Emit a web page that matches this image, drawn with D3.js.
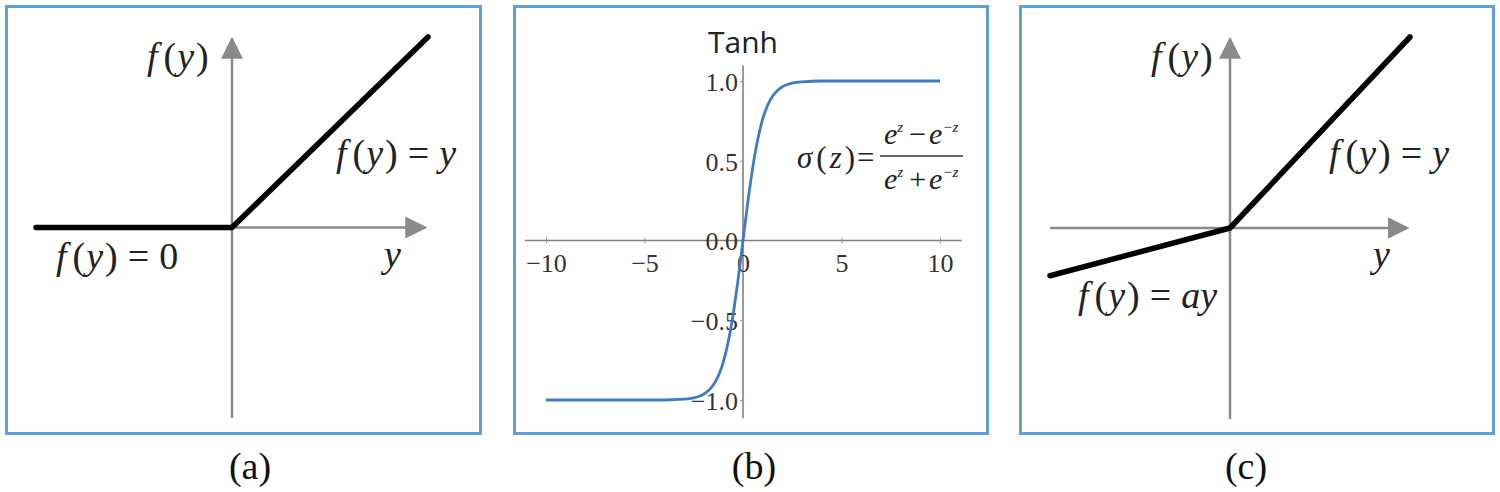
<!DOCTYPE html>
<head>
  <meta charset="utf-8">
  <script src="https://d3js.org/d3.v7.min.js"></script>
</head>
<body style="margin:0">
  <div id="chart"></div>
  <script>
    // panel (a): ReLU, panel (c): leaky ReLU, in normalised units
    var reluX = [-1, 0, 1];
    var reluY = [0, 0, 1];
    var leakyX = [-1, 0, 1];
    var leakyY = [-0.25, 0, 1];
    // panel (b): tanh curve
    var tanhX = [-10, -5, -4, -3, -2.5, -2.25, -2, -1.75, -1.5, -1.25, -1, -0.75, -0.5, -0.25, 0, 0.25, 0.5, 0.75, 1, 1.25, 1.5, 1.75, 2, 2.25, 2.5, 3, 4, 5, 10];
    var tanhY = [-1, -1, -1, -0.995, -0.987, -0.978, -0.964, -0.941, -0.905, -0.848, -0.762, -0.635, -0.462, -0.245, 0, 0.245, 0.462, 0.635, 0.762, 0.848, 0.905, 0.941, 0.964, 0.978, 0.987, 0.995, 1, 1, 1];
    var xTicks = [-10, -5, 0, 5, 10];
    var yTicks = [-1, -0.5, 0, 0.5, 1];
    var captions = ["(a)", "(b)", "(c)"];

    var svg = d3.select("#chart").append("svg")
      .attr("width", 1500)
      .attr("height", 492);

    svg.append("defs").append("marker")
      .attr("id", "arrow")
      .attr("viewBox", "0 0 10 10")
      .attr("refX", 9).attr("refY", 5)
      .attr("markerWidth", 22).attr("markerHeight", 22)
      .attr("markerUnits", "userSpaceOnUse")
      .attr("orient", "auto")
      .append("path")
      .attr("d", "M0,0L10,5L0,10z")
      .attr("fill", "#8a8a8a");

    // panel frames
    var frames = [[6.5, 6.5, 474, 427], [514.5, 6.5, 473, 427], [1020.5, 6.5, 473, 427]];
    svg.selectAll("rect.frame")
      .data(frames)
      .enter().append("rect")
      .attr("class", "frame")
      .attr("x", function(d) { return d[0]; })
      .attr("y", function(d) { return d[1]; })
      .attr("width", function(d) { return d[2]; })
      .attr("height", function(d) { return d[3]; })
      .attr("fill", "none")
      .attr("stroke", "#5f9fdb")
      .attr("stroke-width", 3);

    // serif text uses the page default font (no family set)
    svg.selectAll("text.caption")
      .data(captions)
      .enter().append("text")
      .attr("class", "caption")
      .attr("x", function(d, i) { return [250, 754, 1246][i]; })
      .attr("y", 479)
      .attr("text-anchor", "middle")
      .style("font-size", "38px")
      .style("fill", "#111")
      .text(function(d) { return d; });

    // math label helper: parts are [text, italic?, dx]
    function mathLabel(g, x, y, parts, size) {
      var t = g.append("text")
        .attr("x", x).attr("y", y)
        .style("fill", "#222")
        .style("font-size", size + "px");
      parts.forEach(function(p) {
        t.append("tspan")
          .attr("dx", p[2] || 0)
          .style("font-style", p[1] ? "italic" : "normal")
          .text(p[0]);
      });
      return t;
    }
    function fy(tail) {
      var p = [["f", true], ["(", false, 6], ["y", true, 1], [")", false, 2]];
      return tail ? p.concat(tail) : p;
    }

    function rampPanel(xs, ys, range) {
      var x = d3.scaleLinear().domain([-1, 1]).range(range.x);
      var y = d3.scaleLinear().domain([-1, 1]).range(range.y);
      var g = svg.append("g");
      g.append("line")
        .attr("x1", x(-1)).attr("x2", x(0.985))
        .attr("y1", y(0)).attr("y2", y(0))
        .attr("stroke", "#8a8a8a").attr("stroke-width", 2.5)
        .attr("marker-end", "url(#arrow)");
      g.append("line")
        .attr("x1", x(0)).attr("x2", x(0))
        .attr("y1", y(-1)).attr("y2", y(0.99))
        .attr("stroke", "#8a8a8a").attr("stroke-width", 2.5)
        .attr("marker-end", "url(#arrow)");
      var line = d3.line()
        .x(function(d) { return x(d[0]); })
        .y(function(d) { return y(d[1]); });
      g.append("path")
        .datum(d3.zip(xs, ys))
        .attr("d", line)
        .attr("fill", "none")
        .attr("stroke", "#000")
        .attr("stroke-width", 5.5)
        .attr("stroke-linecap", "round")
        .attr("stroke-linejoin", "round");
      return g;
    }

    // (a)
    var ga = rampPanel(reluX, reluY, { x: [36, 428], y: [418, 37] });
    mathLabel(ga, 147, 69, fy(), 38);
    mathLabel(ga, 336, 166, fy([["=", false, 10], ["y", true, 10]]), 38);
    mathLabel(ga, 56, 269, fy([["=", false, 10], ["0", false, 10]]), 38);
    mathLabel(ga, 384, 267, [["y", true]], 38);

    // (c)
    var gc = rampPanel(leakyX, leakyY, { x: [1050, 1410], y: [419, 37] });
    mathLabel(gc, 1151, 69, fy(), 38);
    mathLabel(gc, 1329, 166, fy([["=", false, 10], ["y", true, 10]]), 38);
    mathLabel(gc, 1373, 267, [["y", true]], 38);
    mathLabel(gc, 1078, 308, fy([["=", false, 10], ["a", true, 10], ["y", true, 0]]), 38);

    // (b) tanh
    var xb = d3.scaleLinear().domain([-10, 10]).range([546, 940]);
    var yb = d3.scaleLinear().domain([-1, 1]).range([400, 81]);
    var gb = svg.append("g");
    gb.append("line")
      .attr("x1", xb(-11.07)).attr("x2", xb(11.1))
      .attr("y1", yb(0)).attr("y2", yb(0))
      .attr("stroke", "#808080").attr("stroke-width", 1.6);
    gb.append("line")
      .attr("x1", xb(0)).attr("x2", xb(0))
      .attr("y1", yb(-1.115)).attr("y2", yb(1.097))
      .attr("stroke", "#808080").attr("stroke-width", 1.6);

    var xAxis = gb.append("g")
      .attr("transform", "translate(0," + yb(0) + ")")
      .call(d3.axisBottom(xb).tickValues(xTicks).tickSize(3).tickFormat(function(d) { return d < 0 ? "\u2212" + (-d) : d; }));
    xAxis.select(".domain").remove();
    xAxis.attr("font-family", null).attr("font-size", null);
    xAxis.selectAll(".tick line").attr("stroke", "#999").attr("y1", -3).attr("y2", 3);
    xAxis.selectAll(".tick text")
      .attr("y", 31).attr("dy", null)
      .style("font-size", "26px").style("fill", "#333");

    var yAxis = gb.append("g")
      .attr("transform", "translate(" + xb(0) + ",0)")
      .call(d3.axisLeft(yb).tickValues(yTicks).tickSize(3).tickFormat(function(d) {
        var s = d3.format(".1f")(Math.abs(d));
        return d < 0 ? "\u2212" + s : s;
      }));
    yAxis.select(".domain").remove();
    yAxis.attr("font-family", null).attr("font-size", null);
    yAxis.selectAll(".tick line").attr("stroke", "#999");
    yAxis.selectAll(".tick text")
      .attr("x", -5).attr("dy", "0.36em")
      .style("font-size", "26px").style("fill", "#333");

    gb.append("path")
      .datum(d3.zip(tanhX, tanhY))
      .attr("d", d3.line()
        .x(function(d) { return xb(d[0]); })
        .y(function(d) { return yb(d[1]); })
        .curve(d3.curveMonotoneX))
      .attr("fill", "none")
      .attr("stroke", "#3d7cc4")
      .attr("stroke-width", 2.8);

    gb.append("text")
      .attr("x", xb(0)).attr("y", 53)
      .attr("text-anchor", "middle")
      .style("font-family", "'Open Sans'")
      .style("font-size", "30px")
      .style("fill", "#222")
      .text("Tanh");

    // formula
    mathLabel(gb, 797, 168, [["\u03c3", true], ["(", false, 4], ["z", true, 3], [")", false, 3], ["=", false, 2]], 31);
    gb.append("line")
      .attr("x1", 880).attr("x2", 963)
      .attr("y1", 156).attr("y2", 156)
      .attr("stroke", "#333").attr("stroke-width", 1.6);
    function expo(t, sign) {
      t.append("tspan").attr("dy", -12).style("font-size", "15px").style("font-style", "italic").text("z");
      t.append("tspan").attr("dy", 12).attr("dx", 6).text(sign);
      t.append("tspan").attr("dx", 3).style("font-style", "italic").text("e");
      t.append("tspan").attr("dy", -12).style("font-size", "15px").style("font-style", "italic").text("\u2212z");
    }
    expo(mathLabel(gb, 884, 144, [["e", true]], 30), "\u2212");
    expo(mathLabel(gb, 884, 189, [["e", true]], 30), "+");
  </script>
</body>
